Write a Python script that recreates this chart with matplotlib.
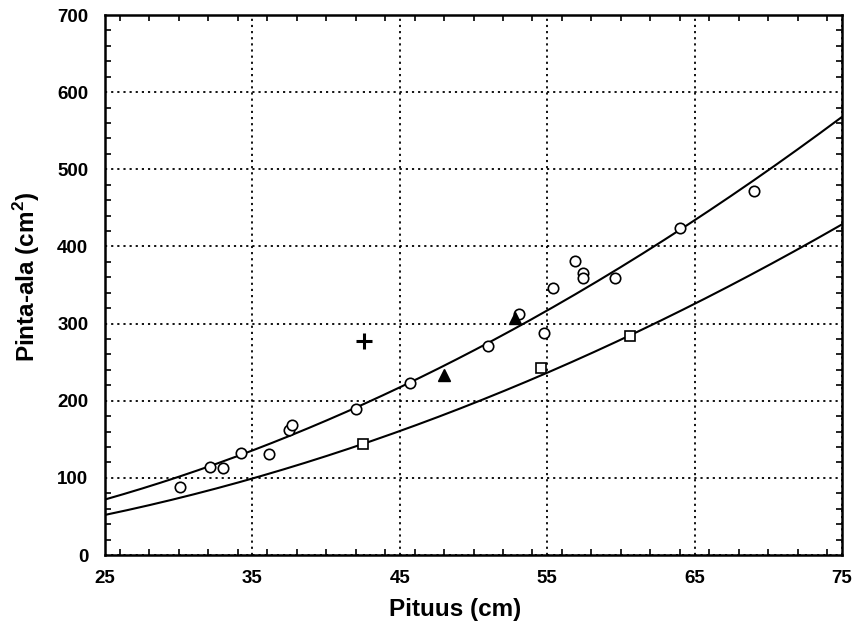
import numpy as np
import matplotlib
matplotlib.use("Agg")
import matplotlib.pyplot as plt
from matplotlib.ticker import MultipleLocator

plt.rcParams['font.family'] = ['Liberation Sans', 'DejaVu Sans']
plt.rcParams['mathtext.fontset'] = 'custom'
plt.rcParams['mathtext.bf'] = 'Liberation Sans:bold'
plt.rcParams['mathtext.rm'] = 'Liberation Sans:bold'

# Measured specimens
circle_x = [30.1, 32.1, 33.0, 34.2, 36.1, 37.5, 37.7, 42.0, 45.7, 51.0,
            53.1, 54.8, 55.4, 56.9, 57.4, 57.4, 59.6, 64.0, 69.0]
circle_y = [88, 114, 113, 132, 131, 162, 169, 189, 223, 271,
            313, 288, 346, 381, 366, 359, 359, 424, 472]
triangle_x = [48.0, 52.8]
triangle_y = [233, 307]
square_x = [42.5, 54.6, 60.6]
square_y = [144, 243, 284]
plus_x = [42.6]
plus_y = [278]

# Power-law fits: area = a * (length / 25) ** b
upper_fit = (72.0, 1.88)
lower_fit = (52.0, 1.92)

x_ticks = [25, 35, 45, 55, 65, 75]
y_ticks = [0, 100, 200, 300, 400, 500, 600, 700]

fig = plt.figure(figsize=(8.53, 6.29), dpi=100)
ax = fig.add_axes([0.1231, 0.1176, 0.864, 0.8585])

xs = np.linspace(25, 75, 200)
for a, b in (upper_fit, lower_fit):
    ax.plot(xs, a * (xs / 25.0) ** b, color='black', lw=1.5, zorder=3)

mk = dict(linestyle='none', zorder=4)
ax.plot(circle_x, circle_y, marker='o', ms=7.5, mfc='white', mec='black', mew=1.2, **mk)
ax.plot(triangle_x, triangle_y, marker='^', ms=8.5, mfc='black', mec='black', **mk)
ax.plot(square_x, square_y, marker='s', ms=7.5, mfc='white', mec='black', mew=1.2, **mk)
ax.plot(plus_x, plus_y, marker='+', ms=11, mec='black', mew=2.2, **mk)

ax.set_xlim(25, 75)
ax.set_ylim(0, 700)
ax.set_xticks(x_ticks)
ax.set_yticks(y_ticks)
ax.xaxis.set_minor_locator(MultipleLocator(2))
ax.yaxis.set_minor_locator(MultipleLocator(20))
ax.tick_params(which='both', direction='in', top=True, right=True)
ax.tick_params(which='minor', length=4, width=1.2)
ax.tick_params(which='major', length=0, labelsize=13.5)
ax.tick_params(axis='x', which='major', pad=11)
ax.tick_params(axis='y', which='major', pad=12)
for lbl in ax.get_xticklabels() + ax.get_yticklabels():
    lbl.set_fontweight('bold')

ax.grid(True, which='major', color='black', linestyle=(0, (1.2, 2.2)), lw=1.3)

for side, sp in ax.spines.items():
    sp.set_linewidth(1.8)

ax.set_xlabel('Pituus (cm)', fontsize=17.5, fontweight='bold')
ax.xaxis.set_label_coords(0.475, -0.08)
ax.set_ylabel('Pinta-ala (cm$^{\\mathbf{2}}$)', fontsize=17.5, fontweight='bold')
ax.yaxis.set_label_coords(-0.085, 0.515)

fig.savefig('out.png', dpi=100, facecolor='white')
